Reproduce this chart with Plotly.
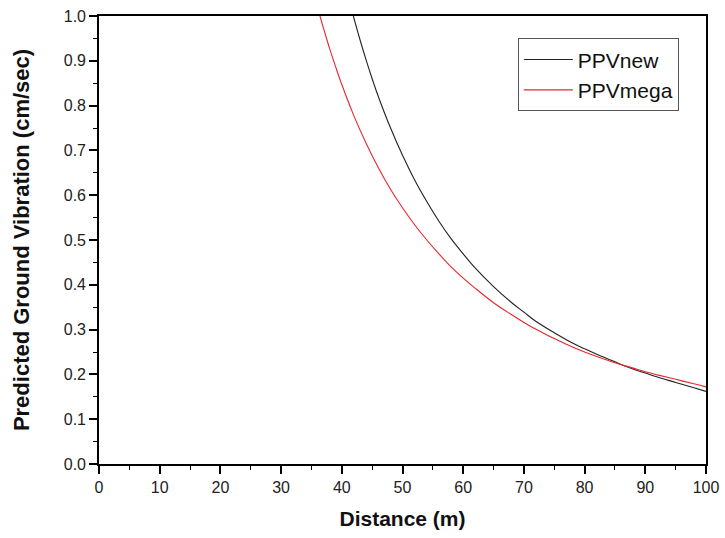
import plotly.graph_objects as go

# Distance (m) and predicted peak particle velocity (cm/sec) for each predictor
dist_new = [41.9, 43, 44, 45, 46, 48, 50, 52, 54, 56, 58, 60, 62, 65, 68, 70,
            72, 75, 78, 80, 82, 85, 86, 88, 90, 92, 95, 98, 100]
ppv_new = [1.000, 0.947, 0.902, 0.860, 0.821, 0.751, 0.689, 0.634, 0.586, 0.542,
           0.503, 0.469, 0.437, 0.396, 0.360, 0.339, 0.318, 0.293, 0.270, 0.257,
           0.245, 0.228, 0.222, 0.212, 0.203, 0.194, 0.182, 0.170, 0.162]

dist_mega = [36.4, 37, 38, 39, 40, 42, 44, 46, 48, 50, 52, 54, 56, 58, 60, 62,
             65, 68, 70, 72, 75, 78, 80, 82, 85, 86, 88, 90, 92, 95, 98, 100]
ppv_mega = [1.000, 0.972, 0.927, 0.886, 0.847, 0.777, 0.716, 0.662, 0.614, 0.572,
            0.534, 0.500, 0.469, 0.440, 0.415, 0.392, 0.360, 0.333, 0.316, 0.301,
            0.280, 0.261, 0.250, 0.240, 0.226, 0.222, 0.214, 0.206, 0.199, 0.189,
            0.179, 0.172]

x_ticks = [0, 10, 20, 30, 40, 50, 60, 70, 80, 90, 100]
y_ticks = [0.0, 0.1, 0.2, 0.3, 0.4, 0.5, 0.6, 0.7, 0.8, 0.9, 1.0]

FONT = "Liberation Sans, Arial, sans-serif"

fig = go.Figure()
fig.add_trace(go.Scatter(x=dist_new, y=ppv_new, mode="lines", name="PPVnew",
                         line=dict(color="#222222", width=1.1, shape="spline")))
fig.add_trace(go.Scatter(x=dist_mega, y=ppv_mega, mode="lines", name="PPVmega",
                         line=dict(color="#e8262a", width=1.1, shape="spline")))

axis_common = dict(
    showgrid=False, zeroline=False, showline=True, linecolor="black",
    linewidth=1.6, mirror=True, ticks="outside", tickwidth=1.6,
    tickcolor="black", ticklen=8, automargin=False,
    tickfont=dict(family=FONT, size=16, color="#222222"),
)

fig.update_xaxes(
    range=[0, 100], tickvals=x_ticks, ticktext=[str(v) for v in x_ticks],
    minor=dict(ticks="outside", dtick=5, ticklen=4, tickwidth=1.4, tickcolor="black"),
    title=dict(text="<b>Distance (m)</b>", font=dict(family=FONT, size=21, color="#111111"),
               standoff=16),
    **axis_common,
)
fig.update_yaxes(
    range=[0, 1.0], tickvals=y_ticks, ticktext=[f"{v:.1f}" for v in y_ticks],
    minor=dict(ticks="outside", dtick=0.05, ticklen=4, tickwidth=1.4, tickcolor="black"),
    title=dict(text="<b>Predicted Ground Vibration (cm/sec)</b>",
               font=dict(family=FONT, size=22, color="#111111"), standoff=28),
    **axis_common,
)

fig.update_layout(
    width=725, height=538,
    margin=dict(l=99, r=19, t=16, b=74),
    paper_bgcolor="white", plot_bgcolor="white",
    font=dict(family=FONT),
    legend=dict(
        x=0.69, y=0.95, xanchor="left", yanchor="top",
        bordercolor="#555555", borderwidth=1, bgcolor="white",
        font=dict(family=FONT, size=21, color="#111111"),
        itemwidth=49, tracegroupgap=0,
    ),
)

fig.write_html("out.html")
